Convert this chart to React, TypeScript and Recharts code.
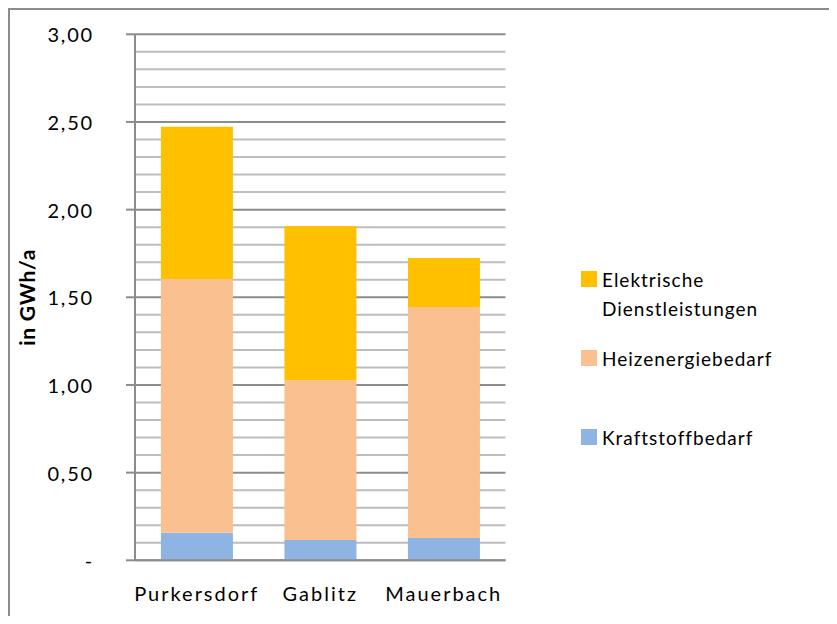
import { Bar, BarChart, CartesianGrid, Legend, XAxis, YAxis } from 'recharts';

const towns = ['Purkersdorf', 'Gablitz', 'Mauerbach'];
const kraftstoff = [0.157, 0.116, 0.127];
const heizenergie = [1.448, 0.911, 1.318];
const elektrisch = [0.868, 0.88, 0.279];

const majorTicks = [0, 0.5, 1, 1.5, 2, 2.5, 3];
const minorTicks = [
  0.1, 0.2, 0.3, 0.4, 0.6, 0.7, 0.8, 0.9, 1.1, 1.2, 1.3, 1.4, 1.6, 1.7, 1.8, 1.9,
  2.1, 2.2, 2.3, 2.4, 2.6, 2.7, 2.8, 2.9,
];

const data = towns.map((name, i) => ({
  name,
  kraft: kraftstoff[i],
  heiz: heizenergie[i],
  elek: elektrisch[i],
}));

const FONT = 'Lato, "Noto Sans", sans-serif';
const TICK_MARGIN = 32;
const TICK_SIZE = 9;

const fmt = (v: number) => (v === 0 ? '-' : v.toFixed(2).replace('.', ','));

function YTick({ x, y, payload }: any) {
  return (
    <g>
      <line
        x1={x + TICK_MARGIN}
        x2={x + TICK_MARGIN + TICK_SIZE}
        y1={y}
        y2={y}
        stroke="#8c8c8c"
        strokeWidth={2}
      />
      <text
        x={x}
        y={y}
        textAnchor="end"
        dominantBaseline="central"
        fill="#000"
        fontSize={20}
        fontFamily={FONT}
        letterSpacing={1.8}
      >
        {fmt(payload.value)}
      </text>
    </g>
  );
}

function YLabel({ viewBox }: any) {
  const cx = viewBox.x + 17;
  const cy = viewBox.y + viewBox.height / 2;
  return (
    <text
      x={cx}
      y={cy}
      transform={`rotate(-90, ${cx}, ${cy})`}
      textAnchor="middle"
      dominantBaseline="central"
      fontWeight="bold"
      fontSize={21}
      fontFamily={FONT}
      letterSpacing={0.8}
      fill="#000"
    >
      in GWh/a
    </text>
  );
}

const legendTops = [0, 79, 158];

function LegendBox({ payload }: any) {
  const items = payload || [];
  return (
    <div style={{ position: 'relative', width: 240, height: 180, fontFamily: FONT }}>
      {items.map((it: any, i: number) => (
        <div
          key={it.value}
          style={{ position: 'absolute', top: legendTops[i], left: 0, display: 'flex' }}
        >
          <span style={{ width: 16, height: 16, background: it.color, flex: 'none' }} />
          <span
            style={{
              marginLeft: 5,
              marginTop: -6.5,
              width: 200,
              lineHeight: '29px',
              fontSize: 19,
              letterSpacing: 1,
              color: '#000',
            }}
          >
            {it.value}
          </span>
        </div>
      ))}
    </div>
  );
}

export default function App() {
  return (
    <div
      style={{
        width: 821,
        height: 608,
        boxSizing: 'border-box',
        borderTop: '2px solid #8c8c8c',
        borderLeft: '2px solid #8c8c8c',
        background: '#fff',
      }}
    >
      <BarChart
        width={819}
        height={606}
        data={data}
        margin={{ top: 24.3, right: 323.5, left: 0, bottom: 15.7 }}
        barCategoryGap="21%"
      >
        <CartesianGrid vertical={false} horizontalValues={minorTicks} stroke="#bdbdbd" strokeWidth={2} />
        <CartesianGrid vertical={false} horizontalValues={majorTicks} stroke="#8c8c8c" strokeWidth={2} />
        <XAxis
          dataKey="name"
          height={40}
          tickLine={false}
          tickMargin={20}
          axisLine={{ stroke: '#8c8c8c', strokeWidth: 2 }}
          tick={{ fill: '#000', fontSize: 20, fontFamily: FONT, letterSpacing: 2 }}
        />
        <YAxis
          type="number"
          domain={[0, 3]}
          ticks={majorTicks}
          interval={0}
          width={125}
          tickSize={TICK_SIZE}
          tickMargin={TICK_MARGIN}
          tickLine={false}
          axisLine={{ stroke: '#8c8c8c', strokeWidth: 2 }}
          tick={<YTick />}
          label={<YLabel />}
        />
        <Legend
          layout="vertical"
          align="center"
          verticalAlign="middle"
          wrapperStyle={{ left: 571, top: 261, width: 240 }}
          content={<LegendBox />}
        />
        <Bar dataKey="kraft" name="Kraftstoffbedarf" stackId="a" fill="#8EB4E3" isAnimationActive={false} />
        <Bar dataKey="heiz" name="Heizenergiebedarf" stackId="a" fill="#FAC090" isAnimationActive={false} />
        <Bar dataKey="elek" name="Elektrische Dienstleistungen" stackId="a" fill="#FFC000" isAnimationActive={false} />
      </BarChart>
    </div>
  );
}
